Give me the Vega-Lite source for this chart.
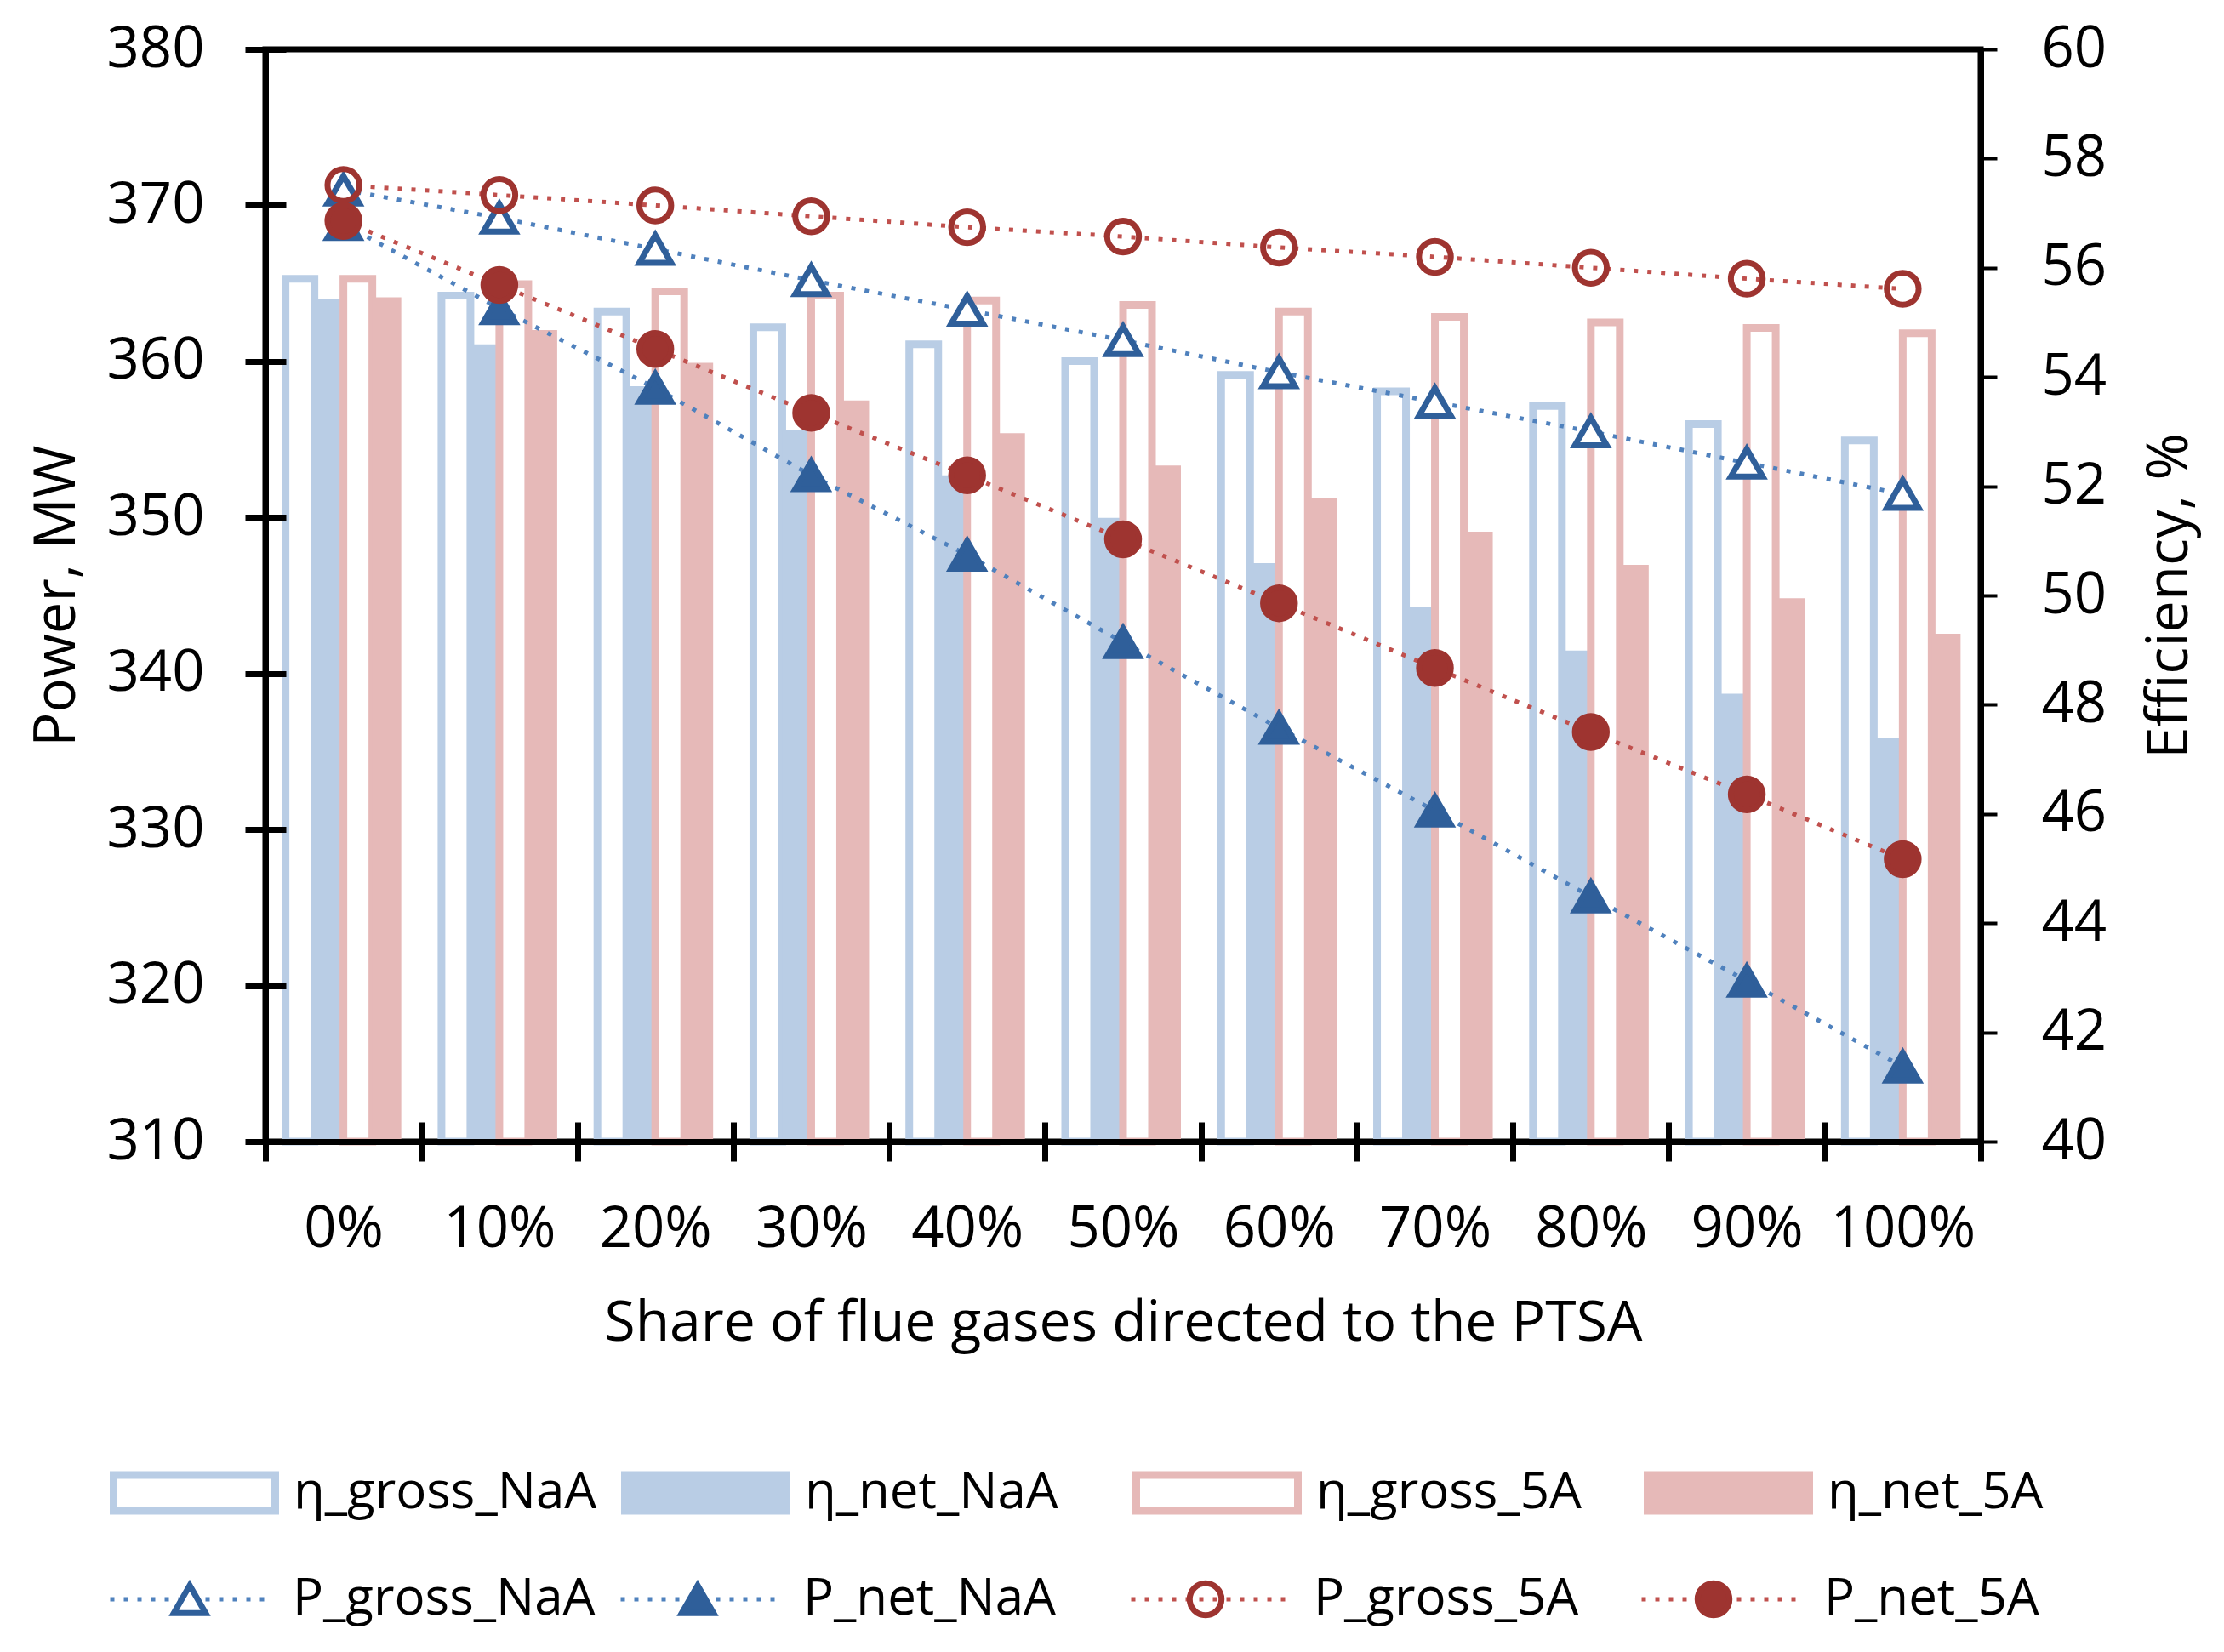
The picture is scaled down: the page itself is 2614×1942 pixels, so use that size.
{
  "$schema": "https://vega.github.io/schema/vega-lite/v6.json",
  "width": 2016,
  "height": 1284,
  "autosize": {"type": "none"},
  "padding": {"left": 312, "top": 58, "right": 286, "bottom": 600},
  "background": "white",
  "datasets": {
    "bars": [
      {"share": "0%", "series": "η_gross_NaA", "eff": 55.8},
      {"share": "0%", "series": "η_net_NaA", "eff": 55.43},
      {"share": "0%", "series": "η_gross_5A", "eff": 55.8},
      {"share": "0%", "series": "η_net_5A", "eff": 55.46},
      {"share": "10%", "series": "η_gross_NaA", "eff": 55.49},
      {"share": "10%", "series": "η_net_NaA", "eff": 54.6},
      {"share": "10%", "series": "η_gross_5A", "eff": 55.7},
      {"share": "10%", "series": "η_net_5A", "eff": 54.86},
      {"share": "20%", "series": "η_gross_NaA", "eff": 55.2},
      {"share": "20%", "series": "η_net_NaA", "eff": 53.83},
      {"share": "20%", "series": "η_gross_5A", "eff": 55.57},
      {"share": "20%", "series": "η_net_5A", "eff": 54.26},
      {"share": "30%", "series": "η_gross_NaA", "eff": 54.91},
      {"share": "30%", "series": "η_net_NaA", "eff": 53.03},
      {"share": "30%", "series": "η_gross_5A", "eff": 55.49},
      {"share": "30%", "series": "η_net_5A", "eff": 53.57},
      {"share": "40%", "series": "η_gross_NaA", "eff": 54.6},
      {"share": "40%", "series": "η_net_NaA", "eff": 52.2},
      {"share": "40%", "series": "η_gross_5A", "eff": 55.4},
      {"share": "40%", "series": "η_net_5A", "eff": 52.97},
      {"share": "50%", "series": "η_gross_NaA", "eff": 54.29},
      {"share": "50%", "series": "η_net_NaA", "eff": 51.42},
      {"share": "50%", "series": "η_gross_5A", "eff": 55.32},
      {"share": "50%", "series": "η_net_5A", "eff": 52.38},
      {"share": "60%", "series": "η_gross_NaA", "eff": 54.04},
      {"share": "60%", "series": "η_net_NaA", "eff": 50.59},
      {"share": "60%", "series": "η_gross_5A", "eff": 55.2},
      {"share": "60%", "series": "η_net_5A", "eff": 51.78},
      {"share": "70%", "series": "η_gross_NaA", "eff": 53.74},
      {"share": "70%", "series": "η_net_NaA", "eff": 49.78},
      {"share": "70%", "series": "η_gross_5A", "eff": 55.1},
      {"share": "70%", "series": "η_net_5A", "eff": 51.17},
      {"share": "80%", "series": "η_gross_NaA", "eff": 53.47},
      {"share": "80%", "series": "η_net_NaA", "eff": 48.99},
      {"share": "80%", "series": "η_gross_5A", "eff": 55.0},
      {"share": "80%", "series": "η_net_5A", "eff": 50.56},
      {"share": "90%", "series": "η_gross_NaA", "eff": 53.14},
      {"share": "90%", "series": "η_net_NaA", "eff": 48.2},
      {"share": "90%", "series": "η_gross_5A", "eff": 54.9},
      {"share": "90%", "series": "η_net_5A", "eff": 49.95},
      {"share": "100%", "series": "η_gross_NaA", "eff": 52.84},
      {"share": "100%", "series": "η_net_NaA", "eff": 47.4},
      {"share": "100%", "series": "η_gross_5A", "eff": 54.8},
      {"share": "100%", "series": "η_net_5A", "eff": 49.3}
    ],
    "lines": [
      {"share": "0%", "series": "P_gross_NaA", "power": 371.0},
      {"share": "10%", "series": "P_gross_NaA", "power": 369.2},
      {"share": "20%", "series": "P_gross_NaA", "power": 367.2},
      {"share": "30%", "series": "P_gross_NaA", "power": 365.2},
      {"share": "40%", "series": "P_gross_NaA", "power": 363.3},
      {"share": "50%", "series": "P_gross_NaA", "power": 361.35},
      {"share": "60%", "series": "P_gross_NaA", "power": 359.3},
      {"share": "70%", "series": "P_gross_NaA", "power": 357.4},
      {"share": "80%", "series": "P_gross_NaA", "power": 355.5},
      {"share": "90%", "series": "P_gross_NaA", "power": 353.5},
      {"share": "100%", "series": "P_gross_NaA", "power": 351.5},
      {"share": "0%", "series": "P_net_NaA", "power": 368.8},
      {"share": "10%", "series": "P_net_NaA", "power": 363.4},
      {"share": "20%", "series": "P_net_NaA", "power": 358.3},
      {"share": "30%", "series": "P_net_NaA", "power": 352.7},
      {"share": "40%", "series": "P_net_NaA", "power": 347.6},
      {"share": "50%", "series": "P_net_NaA", "power": 342.0},
      {"share": "60%", "series": "P_net_NaA", "power": 336.5},
      {"share": "70%", "series": "P_net_NaA", "power": 331.2},
      {"share": "80%", "series": "P_net_NaA", "power": 325.7},
      {"share": "90%", "series": "P_net_NaA", "power": 320.3},
      {"share": "100%", "series": "P_net_NaA", "power": 314.8},
      {"share": "0%", "series": "P_gross_5A", "power": 371.3},
      {"share": "10%", "series": "P_gross_5A", "power": 370.66},
      {"share": "20%", "series": "P_gross_5A", "power": 370.0},
      {"share": "30%", "series": "P_gross_5A", "power": 369.3},
      {"share": "40%", "series": "P_gross_5A", "power": 368.6},
      {"share": "50%", "series": "P_gross_5A", "power": 368.0},
      {"share": "60%", "series": "P_gross_5A", "power": 367.3},
      {"share": "70%", "series": "P_gross_5A", "power": 366.7},
      {"share": "80%", "series": "P_gross_5A", "power": 366.0},
      {"share": "90%", "series": "P_gross_5A", "power": 365.3},
      {"share": "100%", "series": "P_gross_5A", "power": 364.65},
      {"share": "0%", "series": "P_net_5A", "power": 369.0},
      {"share": "10%", "series": "P_net_5A", "power": 364.9},
      {"share": "20%", "series": "P_net_5A", "power": 360.8},
      {"share": "30%", "series": "P_net_5A", "power": 356.7},
      {"share": "40%", "series": "P_net_5A", "power": 352.7},
      {"share": "50%", "series": "P_net_5A", "power": 348.6},
      {"share": "60%", "series": "P_net_5A", "power": 344.5},
      {"share": "70%", "series": "P_net_5A", "power": 340.35},
      {"share": "80%", "series": "P_net_5A", "power": 336.25},
      {"share": "90%", "series": "P_net_5A", "power": 332.25},
      {"share": "100%", "series": "P_net_5A", "power": 328.1}
    ]
  },
  "layer": [
    {
      "data": {"name": "bars"},
      "mark": {"type": "bar", "opacity": 1},
      "encoding": {
        "x": {
          "field": "share", "type": "nominal",
          "scale": {"domain": ["0%", "10%", "20%", "30%", "40%", "50%", "60%", "70%", "80%", "90%", "100%"], "paddingInner": 0, "paddingOuter": 0},
          "axis": {
            "orient": "bottom", "zindex": 1, "tickBand": "extent", "tickSize": 23, "labelPadding": 47,
            "labelAngle": 0, "title": "Share of flue gases directed to the PTSA",
            "titleX": 1008, "titleY": 213, "titleBaseline": "middle", "titleFontSize": 66,
            "encoding": {"ticks": {"y": {"value": -23}}}
          }
        },
        "xOffset": {
          "field": "series", "type": "nominal",
          "scale": {"domain": ["η_gross_NaA", "η_net_NaA", "η_gross_5A", "η_net_5A"], "paddingInner": 0, "paddingOuter": 0.695}
        },
        "y": {
          "field": "eff", "type": "quantitative",
          "scale": {"domain": [40, 60], "zero": false, "nice": false},
          "axis": {
            "orient": "right", "zindex": 1, "values": [40, 42, 44, 46, 48, 50, 52, 54, 56, 58, 60],
            "tickSize": 19, "tickWidth": 4, "labelPadding": 52,
            "title": "Efficiency, %", "titleAngle": -90, "titleX": 222, "titleY": 642,
            "titleAlign": "center", "titleBaseline": "middle"
          }
        },
        "y2": {"datum": 40},
        "fill": {
          "field": "series", "type": "nominal",
          "scale": {"domain": ["η_gross_NaA", "η_net_NaA", "η_gross_5A", "η_net_5A"], "range": ["#ffffff", "#b9cde5", "#ffffff", "#e6b9b8"]},
          "legend": {
            "orient": "none", "legendX": -188, "legendY": 1667, "title": null,
            "columns": 4, "gridAlign": "all", "columnPadding": 23, "padding": 0, "clipHeight": 60,
            "symbolType": "M-0.95,-0.21H0.95V0.21H-0.95Z", "symbolSize": 40000,
            "symbolStrokeWidth": 9, "labelOffset": 12, "symbolOpacity": 1
          }
        },
        "stroke": {
          "field": "series", "type": "nominal",
          "scale": {"domain": ["η_gross_NaA", "η_net_NaA", "η_gross_5A", "η_net_5A"], "range": ["#b9cde5", "#b9cde5", "#e6b9b8", "#e6b9b8"]},
          "legend": {
            "orient": "none", "legendX": -188, "legendY": 1667, "title": null,
            "columns": 4, "gridAlign": "all", "columnPadding": 23, "padding": 0, "clipHeight": 60,
            "symbolType": "M-0.95,-0.21H0.95V0.21H-0.95Z", "symbolSize": 40000,
            "symbolStrokeWidth": 9, "labelOffset": 12, "symbolOpacity": 1
          }
        },
        "strokeWidth": {
          "condition": {"test": "indexof(datum.series, 'gross') >= 0", "value": 9},
          "value": 0
        }
      }
    },
    {
      "data": {"name": "lines"},
      "layer": [
        {
          "mark": {"type": "line", "strokeDash": [5, 11], "strokeWidth": 5},
          "encoding": {
            "x": {
              "field": "share", "type": "nominal",
              "scale": {"domain": ["0%", "10%", "20%", "30%", "40%", "50%", "60%", "70%", "80%", "90%", "100%"]},
              "sort": ["0%", "10%", "20%", "30%", "40%", "50%", "60%", "70%", "80%", "90%", "100%"]
            },
            "y": {
              "field": "power", "type": "quantitative",
              "scale": {"domain": [310, 380], "zero": false, "nice": false},
              "axis": {
                "orient": "left", "zindex": 1, "values": [310, 320, 330, 340, 350, 360, 370, 380],
                "tickSize": 24, "labelPadding": 48,
                "title": "Power, MW", "titleAngle": -90, "titleX": -245, "titleY": 642,
                "titleAlign": "center", "titleBaseline": "middle",
                "encoding": {"ticks": {"x": {"value": 24}}}
              }
            },
            "color": {
              "field": "series", "type": "nominal",
              "scale": {"domain": ["P_gross_NaA", "P_net_NaA", "P_gross_5A", "P_net_5A"], "range": ["#4f81bd", "#4f81bd", "#c0504d", "#c0504d"]},
              "legend": {
                "orient": "none", "legendX": -190, "legendY": 1792, "title": null,
                "columns": 4, "gridAlign": "all", "columnPadding": 22, "padding": 0, "clipHeight": 60,
                "symbolType": "M-0.95,0H0.95", "symbolSize": 40000,
                "symbolStrokeWidth": 5, "symbolDash": [5, 11], "labelOffset": 17
              }
            }
          }
        },
        {
          "mark": {"type": "point", "filled": true, "size": 1400, "strokeWidth": 7, "opacity": 1},
          "encoding": {
            "x": {
              "field": "share", "type": "nominal",
              "scale": {"domain": ["0%", "10%", "20%", "30%", "40%", "50%", "60%", "70%", "80%", "90%", "100%"]}
            },
            "y": {"field": "power", "type": "quantitative"},
            "shape": {
              "field": "series", "type": "nominal",
              "scale": {"domain": ["P_gross_NaA", "P_net_NaA", "P_gross_5A", "P_net_5A"], "range": ["triangle-up", "triangle-up", "circle", "circle"]},
              "legend": {
                "orient": "none", "legendX": -190, "legendY": 1792, "title": null,
                "columns": 4, "gridAlign": "all", "columnPadding": 384, "padding": 0, "clipHeight": 60,
                "symbolSize": 1400, "symbolStrokeWidth": 7, "symbolOffset": 71,
                "labelOffset": 82, "labelExpr": "''"
              }
            },
            "fill": {
              "field": "series", "type": "nominal",
              "scale": {"domain": ["P_gross_NaA", "P_net_NaA", "P_gross_5A", "P_net_5A"], "range": ["#ffffff", "#2f5f9a", "transparent", "#9e3430"]},
              "legend": {
                "orient": "none", "legendX": -190, "legendY": 1792, "title": null,
                "columns": 4, "gridAlign": "all", "columnPadding": 384, "padding": 0, "clipHeight": 60,
                "symbolSize": 1400, "symbolStrokeWidth": 7, "symbolOffset": 71,
                "labelOffset": 82, "labelExpr": "''"
              }
            },
            "stroke": {
              "field": "series", "type": "nominal",
              "scale": {"domain": ["P_gross_NaA", "P_net_NaA", "P_gross_5A", "P_net_5A"], "range": ["#2f5f9a", "#2f5f9a", "#9e3430", "#9e3430"]},
              "legend": {
                "orient": "none", "legendX": -190, "legendY": 1792, "title": null,
                "columns": 4, "gridAlign": "all", "columnPadding": 384, "padding": 0, "clipHeight": 60,
                "symbolSize": 1400, "symbolStrokeWidth": 7, "symbolOffset": 71,
                "labelOffset": 82, "labelExpr": "''"
              }
            }
          }
        }
      ],
      "resolve": {
        "legend": {"color": "independent", "fill": "independent", "stroke": "independent", "shape": "independent"}
      }
    }
  ],
  "resolve": {
    "scale": {"y": "independent", "fill": "independent", "stroke": "independent"}
  },
  "config": {
    "font": "Open Sans",
    "view": {"stroke": "black", "strokeWidth": 7},
    "axis": {
      "grid": false,
      "labelFont": "Open Sans", "labelFontSize": 67, "labelColor": "black",
      "titleFont": "Open Sans", "titleFontSize": 67, "titleFontWeight": "normal", "titleColor": "black",
      "domainColor": "black", "domainWidth": 7, "tickColor": "black", "tickWidth": 7
    },
    "legend": {
      "labelFont": "Open Sans", "labelFontSize": 60, "labelColor": "black", "labelLimit": 0
    }
  }
}
